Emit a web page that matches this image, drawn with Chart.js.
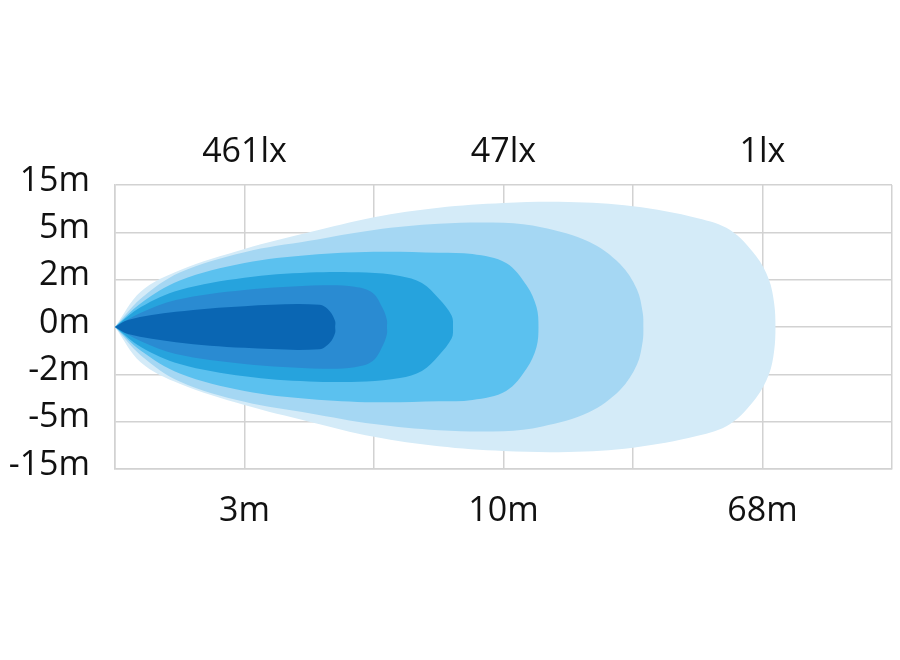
<!DOCTYPE html>
<html>
<head>
<meta charset="utf-8">
<script src="https://cdn.jsdelivr.net/npm/chart.js@4"></script>
<style>
  body { margin: 0; background: #fff; }
  #wrap { width: 900px; height: 660px; }
</style>
</head>
<body>
<div id="wrap"><canvas id="beamchart" width="900" height="660"></canvas></div>
<script>
// tick labels
var yLabels = ['-15m', '-5m', '-2m', '0m', '2m', '5m', '15m'];
var distLabels = ['', '3m', '', '10m', '', '68m', ''];
var luxLabels = ['', '461lx', '', '47lx', '', '1lx', ''];

// beam zones: distance along the beam (grid units) and half width (grid units)
var zone1X = [0, 0.1, 0.47, 1.0, 1.58, 1.66, 1.7, 1.7];
var zone1W = [0, 0.15, 0.32, 0.44, 0.47, 0.33, 0.12, 0];
var zone2X = [0, 0.2, 0.47, 1.0, 1.6, 1.85, 1.99, 2.07, 2.1, 2.1];
var zone2W = [0, 0.3, 0.57, 0.78, 0.88, 0.85, 0.72, 0.38, 0.14, 0];
var zone3X = [0, 0.2, 0.5, 1.0, 1.5, 1.94, 2.2, 2.37, 2.5, 2.6, 2.61];
var zone3W = [0, 0.42, 0.78, 1.04, 1.15, 1.15, 1.08, 0.93, 0.6, 0.24, 0];
var zone4X = [0, 0.2, 0.5, 1.0, 1.5, 2.0, 2.5, 2.76, 3.02, 3.18, 3.255, 3.27];
var zone4W = [0, 0.5, 0.98, 1.35, 1.52, 1.59, 1.57, 1.54, 1.35, 0.87, 0.42, 0];
var zone5X = [0, 0.2, 0.5, 1.0, 1.5, 2.0, 2.5, 3.0, 3.3, 3.66, 3.9, 4.03, 4.075, 4.08];
var zone5W = [0, 0.6, 1.15, 1.58, 1.82, 2.05, 2.18, 2.2, 2.1, 1.8, 1.33, 0.8, 0.3, 0];
var zone6X = [0, 0.2, 0.5, 1.0, 1.5, 2.0, 2.5, 3.0, 3.5, 4.0, 4.5, 4.75, 4.95, 5.05, 5.09, 5.1];
var zone6W = [0, 0.75, 1.2, 1.65, 2.0, 2.32, 2.52, 2.62, 2.64, 2.55, 2.3, 2.05, 1.5, 1.0, 0.5, 0];

var zoneColors = ['#0a66b3', '#2a8bd2', '#26a3dd', '#5bc1ef', '#a5d7f3', '#d4ebf8'];

// closed outline: top edge out, bottom edge back
function outline(xs, ws) {
    var pts = [];
    for (var i = 0; i < xs.length; i++) pts.push({x: xs[i], y: ws[i]});
    for (var j = xs.length - 2; j >= 0; j--) pts.push({x: xs[j], y: -ws[j]});
    return pts;
}

var zones = [
    [zone1X, zone1W], [zone2X, zone2W], [zone3X, zone3W],
    [zone4X, zone4W], [zone5X, zone5W], [zone6X, zone6W]
];

var datasets = zones.map(function(z, i) {
    return {
        data: outline(z[0], z[1]),
        backgroundColor: zoneColors[i],
        borderWidth: 0,
        pointRadius: 0,
        tension: 0.35,
        fill: 'shape'
    };
});

var font = {family: "'Open Sans', 'Noto Sans', sans-serif", size: 34};
var gridColor = '#d2d2d2';
var clear = 'rgba(0,0,0,0)';

var ctx = document.getElementById('beamchart').getContext('2d');
var beamchart = new Chart(ctx, {
    type: 'scatter',
    data: {datasets: datasets},
    options: {
        responsive: false,
        animation: false,
        showLine: true,
        layout: {padding: {left: 0, right: 8, top: 0, bottom: 0}},
        plugins: {legend: {display: false}, tooltip: {enabled: false}},
        scales: {
            x: {
                type: 'linear', position: 'bottom', min: 0, max: 6,
                // tick marks hidden, their length only spaces the labels
                grid: {color: gridColor, lineWidth: 1.5, tickColor: clear, tickLength: 22},
                border: {color: gridColor, width: 1.5},
                ticks: {
                    stepSize: 1, autoSkip: false, maxRotation: 0, padding: 0,
                    color: '#111', font: font,
                    callback: function(v) { return distLabels[v]; }
                },
                afterFit: function(s) { s.height = 191; }
            },
            x2: {
                type: 'linear', position: 'top', min: 0, max: 6,
                grid: {color: clear, tickColor: clear, drawOnChartArea: false, tickLength: 12},
                border: {display: false},
                ticks: {
                    stepSize: 1, autoSkip: false, maxRotation: 0, padding: 0,
                    color: '#111', font: font,
                    callback: function(v) { return luxLabels[v]; }
                },
                afterFit: function(s) { s.height = 185; }
            },
            y: {
                type: 'linear', min: -3, max: 3,
                grid: {color: gridColor, lineWidth: 1.5, drawTicks: false},
                border: {color: gridColor, width: 1.5},
                ticks: {
                    stepSize: 1, padding: 25, labelOffset: -4,
                    color: '#111', font: font,
                    callback: function(v) { return yLabels[v + 3]; }
                },
                afterFit: function(s) { s.width = 115; }
            }
        }
    }
});
</script>
</body>
</html>
